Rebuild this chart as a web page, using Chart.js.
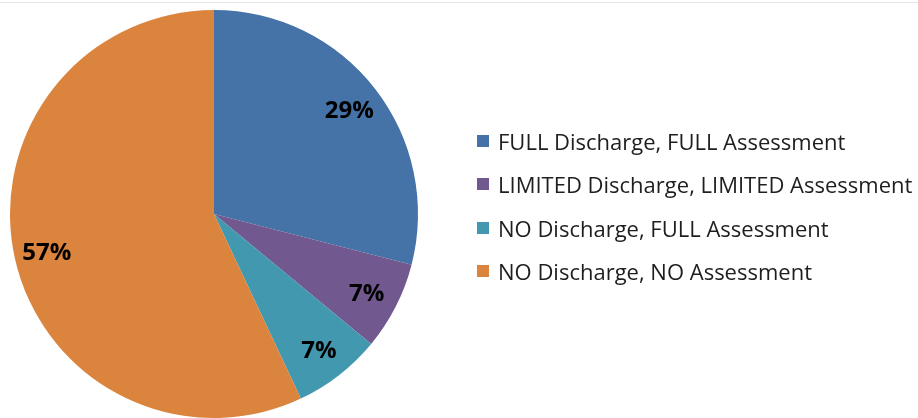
<!DOCTYPE html>
<html>
<head>
<meta charset="utf-8">
<script src="https://cdn.jsdelivr.net/npm/chart.js@4.4.0/dist/chart.umd.min.js"></script>
<style>
    html, body { margin: 0; padding: 0; background: #fff; }
    #wrap { position: relative; width: 918px; height: 418px; overflow: hidden; }
    #topRule { position: absolute; left: 0; top: 2px; width: 918px; height: 0; border-top: 1px solid #e4e4e4; }
    #pieChart { position: absolute; left: 0; top: 0; }
    #legend { position: absolute; left: 477px; top: 126px; font-family: "Open Sans", sans-serif; font-size: 22px; line-height: 30px; color: #1e1e1e; }
    #legend .item { height: 43.4px; display: flex; align-items: flex-start; white-space: nowrap; }
    #legend .box { width: 12px; height: 12px; margin-top: 9px; margin-right: 9px; flex: none; }
</style>
</head>
<body>
<div id="wrap">
    <div id="topRule"></div>
    <canvas id="pieChart" width="918" height="418"></canvas>
    <div id="legend"></div>
</div>
<script>
const categories = [
    'FULL Discharge, FULL Assessment',
    'LIMITED Discharge, LIMITED Assessment',
    'NO Discharge, FULL Assessment',
    'NO Discharge, NO Assessment'
];
const shares = [29, 7, 7, 57];
const sliceColors = ['#4572A7', '#71588F', '#4198AF', '#DB843D'];

// percentage labels inside each slice
const sliceLabels = {
    id: 'sliceLabels',
    afterDatasetsDraw(chart) {
        const ctx = chart.ctx;
        const meta = chart.getDatasetMeta(0);
        ctx.save();
        ctx.font = 'bold 24px "Open Sans", sans-serif';
        ctx.fillStyle = '#000';
        ctx.textAlign = 'center';
        ctx.textBaseline = 'middle';
        meta.data.forEach((arc, i) => {
            const mid = (arc.startAngle + arc.endAngle) / 2;
            const r = arc.outerRadius * 0.84;
            ctx.fillText(shares[i] + '%', arc.x + Math.cos(mid) * r, arc.y + Math.sin(mid) * r + 2);
        });
        ctx.restore();
    }
};

const ctx = document.getElementById('pieChart').getContext('2d');
const pieChart = new Chart(ctx, {
    type: 'pie',
    data: {
        labels: categories,
        datasets: [{
            data: shares,
            backgroundColor: sliceColors,
            borderWidth: 0
        }]
    },
    options: {
        responsive: false,
        devicePixelRatio: 1,
        animation: false,
        layout: {
            padding: { left: 10, top: 10, right: 500, bottom: 0 }
        },
        plugins: {
            legend: { display: false },
            tooltip: { enabled: false }
        }
    },
    plugins: [sliceLabels]
});

// legend beside the pie
const legendEl = document.getElementById('legend');
categories.forEach((name, i) => {
    const item = document.createElement('div');
    item.className = 'item';
    const box = document.createElement('span');
    box.className = 'box';
    box.style.background = sliceColors[i];
    const text = document.createElement('span');
    text.textContent = name;
    item.appendChild(box);
    item.appendChild(text);
    legendEl.appendChild(item);
});
</script>
</body>
</html>
